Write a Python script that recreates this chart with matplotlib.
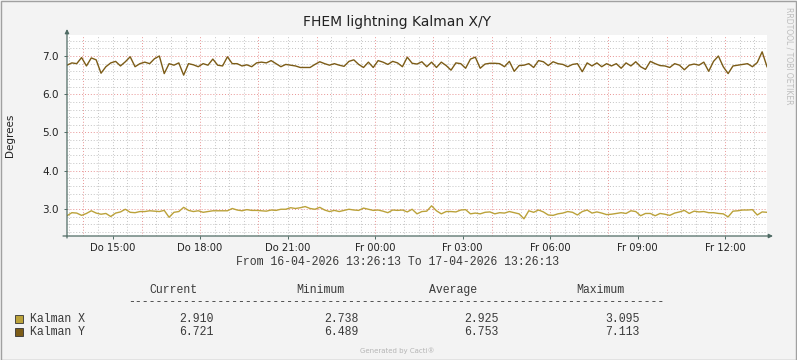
import numpy as np
import matplotlib
matplotlib.use("Agg")
from matplotlib import pyplot as plt
from matplotlib.patches import Rectangle

# 10 minute samples, 16-04-2026 13:26:13 .. 17-04-2026 13:26:13
kalman_x = [
    2.82, 2.90, 2.89, 2.83, 2.88, 2.95, 2.89, 2.86, 2.88, 2.80,
    2.89, 2.92, 2.99, 2.91, 2.90, 2.93, 2.93, 2.95, 2.94, 2.93,
    2.96, 2.78, 2.91, 2.93, 3.04, 2.96, 2.93, 2.95, 2.91, 2.93,
    2.95, 2.95, 2.95, 2.95, 3.01, 2.97, 2.95, 2.98, 2.96, 2.96,
    2.95, 2.94, 2.97, 2.96, 2.99, 2.99, 3.03, 3.01, 3.03, 3.06,
    3.01, 2.99, 3.04, 2.97, 2.93, 2.96, 2.93, 2.96, 2.99, 2.97,
    2.96, 3.02, 2.99, 2.96, 2.97, 2.94, 2.90, 2.97, 2.96, 2.97,
    2.92, 2.99, 2.87, 2.93, 2.94, 3.08, 2.95, 2.87, 2.93, 2.93,
    2.92, 2.97, 2.98, 2.87, 2.89, 2.87, 2.91, 2.92, 2.87, 2.90,
    2.89, 2.93, 2.90, 2.87, 2.74, 2.95, 2.91, 2.97, 2.92, 2.84,
    2.83, 2.87, 2.89, 2.93, 2.91, 2.84, 2.93, 2.97, 2.89, 2.92,
    2.89, 2.85, 2.86, 2.88, 2.90, 2.88, 2.95, 2.93, 2.82, 2.88,
    2.88, 2.82, 2.88, 2.86, 2.83, 2.89, 2.92, 2.96, 2.88, 2.94,
    2.92, 2.93, 2.90, 2.90, 2.88, 2.87, 2.79, 2.94, 2.95, 2.97,
    2.97, 2.98, 2.84, 2.92, 2.91,
]
kalman_y = [
    6.76, 6.82, 6.80, 6.96, 6.74, 6.95, 6.90, 6.55, 6.72, 6.82,
    6.86, 6.74, 6.85, 6.98, 6.72, 6.80, 6.84, 6.80, 6.93, 7.00,
    6.54, 6.80, 6.76, 6.82, 6.50, 6.80, 6.77, 6.72, 6.80, 6.76,
    6.92, 6.76, 6.74, 6.98, 6.80, 6.80, 6.74, 6.77, 6.72, 6.82,
    6.84, 6.82, 6.88, 6.80, 6.72, 6.78, 6.76, 6.74, 6.70, 6.70,
    6.70, 6.78, 6.85, 6.80, 6.76, 6.80, 6.76, 6.73, 6.86, 6.90,
    6.78, 6.70, 6.84, 6.70, 6.88, 6.84, 6.78, 6.86, 6.82, 6.72,
    6.97, 6.81, 6.79, 6.85, 6.72, 6.84, 6.70, 6.84, 6.75, 6.63,
    6.82, 6.80, 6.68, 6.92, 6.97, 6.68, 6.79, 6.81, 6.81, 6.80,
    6.72, 6.86, 6.60, 6.75, 6.76, 6.80, 6.70, 6.88, 6.85, 6.75,
    6.85, 6.80, 6.78, 6.72, 6.78, 6.80, 6.59, 6.82, 6.74, 6.82,
    6.72, 6.80, 6.74, 6.80, 6.68, 6.82, 6.74, 6.85, 6.72, 6.65,
    6.86, 6.80, 6.75, 6.74, 6.70, 6.80, 6.76, 6.64, 6.76, 6.79,
    6.76, 6.84, 6.60, 6.86, 7.00, 6.72, 6.54, 6.74, 6.76, 6.78,
    6.80, 6.72, 6.83, 7.11, 6.72,
]
tick_labels = ['Do 15:00', 'Do 18:00', 'Do 21:00', 'Fr 00:00',
               'Fr 03:00', 'Fr 06:00', 'Fr 09:00', 'Fr 12:00']
tick_hours = [15, 18, 21, 24, 27, 30, 33, 36]
y_ticks = [3.0, 4.0, 5.0, 6.0, 7.0]
series_names = ['Kalman X', 'Kalman Y']
current = ['2.910', '6.721']
minimum = ['2.738', '6.489']
average = ['2.925', '6.753']
maximum = ['3.095', '7.113']
col_x = '#BBA23A'
col_y = '#7C5C17'

start = 13 + 26/60 + 13/3600
hours = start + np.arange(len(kalman_x)) / 6.0

W, H = 797, 360
fig = plt.figure(figsize=(W/100, H/100), dpi=100, facecolor='#F3F3F3')
ax = fig.add_axes([67/W, 1 - 236/H, 700/W, 201/H])
ax.set_facecolor('white')
ax.set_xlim(start, start + 24)
ax.set_ylim(2.29, 7.55)

# grid like rrdtool: gray minor, red major
for yv in np.arange(2.4, 7.55, 0.2):
    if abs(yv - round(yv)) < 1e-6:
        continue
    ax.axhline(yv, color='#C4C4C4', lw=0.7, ls=(0, (1, 2)), zorder=1)
for hv in np.arange(13.5, start + 24, 0.5):
    if hv % 2 == 0:
        continue
    ax.axvline(hv, color='#C4C4C4', lw=0.7, ls=(0, (1, 2)), zorder=1)
for yv in y_ticks:
    ax.axhline(yv, color='#E89494', lw=0.7, ls=(0, (1, 2)), zorder=1.5)
for hv in np.arange(14, start + 24, 2):
    ax.axvline(hv, color='#E89494', lw=0.7, ls=(0, (1, 2)), zorder=1.5)

ax.plot(hours, kalman_x, color=col_x, lw=1.0, zorder=3)
ax.plot(hours, kalman_y, color=col_y, lw=1.0, zorder=3)

for s in ax.spines.values():
    s.set_visible(False)
axis_col = '#4F6B64'
ax.annotate('', xy=(0, 1 + 6/201), xytext=(0, -2/201), xycoords='axes fraction',
            arrowprops=dict(arrowstyle='-|>', color=axis_col, lw=0.9,
                            mutation_scale=6, shrinkA=0, shrinkB=0), annotation_clip=False)
ax.annotate('', xy=(1 + 6/700, 0), xytext=(-4/700, 0), xycoords='axes fraction',
            arrowprops=dict(arrowstyle='-|>', color=axis_col, lw=0.9,
                            mutation_scale=6, shrinkA=0, shrinkB=0), annotation_clip=False)

ax.set_xticks(tick_hours)
ax.set_xticklabels(tick_labels)
ax.set_yticks(y_ticks)
ax.set_yticklabels(['%.1f' % v for v in y_ticks])
ax.tick_params(axis='x', length=2, width=0.7, color=axis_col, pad=3, labelsize=7.2,
               labelcolor='#222222')
ax.tick_params(axis='y', length=2, width=0.7, color=axis_col, pad=4, labelsize=7.5,
               labelcolor='#222222')

fig.text(397/W, 1 - 22/H, 'FHEM lightning Kalman X/Y', ha='center', va='center',
         fontsize=10, color='#222222')
fig.text(10/W, 1 - 135/H, 'Degrees', rotation=90, ha='center', va='center',
         fontsize=7.5, color='#222222')
fig.text(789/W, 1 - 56/H, 'RRDTOOL / TOBI OETIKER', rotation=270, ha='center',
         va='center', fontsize=5.5, color='#BDBDBD')

mono = dict(family='Liberation Mono', fontsize=8.3, color='#3A3A3A', va='center')
fig.text(398/W, 1 - 262/H, 'From 16-04-2026 13:26:13 To 17-04-2026 13:26:13',
         ha='center', **mono)
for label, cx in zip(['Current', 'Minimum', 'Average', 'Maximum'], [173, 320, 453, 600]):
    fig.text(cx/W, 1 - 290/H, label, ha='center', **mono)
fig.text(128/W, 1 - 302/H, '-' * 78, ha='left', **mono)

colors = [col_x, col_y]
for i, name in enumerate(series_names):
    yy = 319 + i * 13
    fig.add_artist(Rectangle((15/W, 1 - (yy + 4)/H), 8/W, 8/H, facecolor=colors[i],
                             edgecolor='#333333', lw=0.6, transform=fig.transFigure))
    fig.text(30/W, 1 - yy/H, name, ha='left', **mono)
    for vals, cx in zip([current, minimum, average, maximum], [196, 341, 481, 622]):
        fig.text(cx/W, 1 - yy/H, vals[i], ha='center', **mono)

fig.text(397/W, 1 - 351/H, 'Generated by Cacti\u00ae', ha='center', va='center',
         fontsize=5, color='#B5B5B5')

fig.add_artist(Rectangle((0.5/W, 0.5/H), (W - 1.5)/W, (H - 1.5)/H, facecolor='none',
                         edgecolor='#A0A0A0', lw=1.0, transform=fig.transFigure))

fig.savefig('out.png', dpi=100, facecolor=fig.get_facecolor())
